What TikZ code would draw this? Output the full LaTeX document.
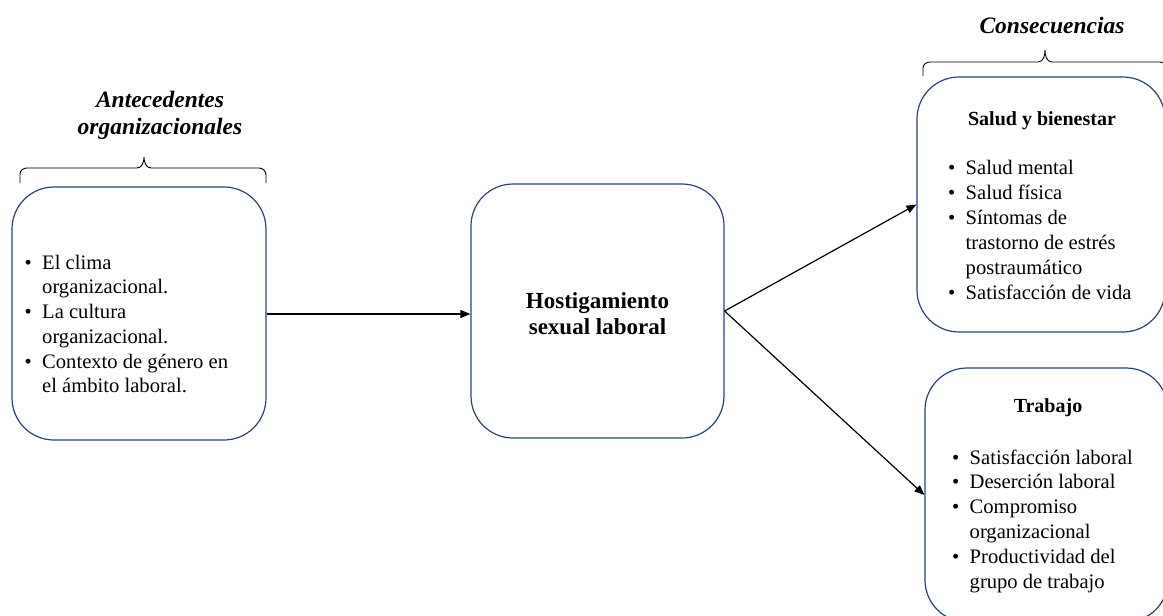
\documentclass[tikz,border=0pt]{standalone}
\usepackage{fontspec}
\setmainfont{Liberation Serif}
\usetikzlibrary{arrows.meta}
\definecolor{boxblue}{HTML}{2A4470}
% bullet item and its continuation line
\newcommand\itm[1]{\makebox[17.5pt][l]{\textbullet}#1}
\newcommand\cnt[1]{\hspace*{17.5pt}#1}
\begin{document}
\begin{tikzpicture}[x=1pt,y=-1pt,
  box/.style={draw=boxblue,line width=1.2pt,rounded corners=42pt,inner sep=0pt},
  listtxt/.style={anchor=north west,inner sep=0pt,align=left,font=\fontsize{20.6}{24.7}\selectfont},
  head/.style={anchor=base,inner sep=0pt,font=\fontsize{20}{24}\selectfont\bfseries},
  group/.style={inner sep=0pt,align=center,font=\fontsize{23.5}{27}\selectfont\bfseries\itshape},
  brace/.style={line width=0.9pt,black},
  flow/.style={line width=1.2pt,-{Triangle[length=10pt,width=8pt]}}]
\fill[white] (0,0) rectangle (1163,616);
\useasboundingbox (0,0) rectangle (1163,616);

% boxes
\node[box,minimum width=254pt,minimum height=253pt] (ante) at (139,313.5) {};
\node[box,minimum width=253pt,minimum height=254pt] (hsl) at (597.5,311) {};
\node[box,minimum width=248pt,minimum height=255pt] (sal) at (1041,204.5) {};
\node[box,minimum width=243pt,minimum height=254pt] (trab) at (1046.5,495) {};

% group titles and braces
\node[group,anchor=north] (tante) at (160,88.1) {\strut Antecedentes\\organizacionales};
\node[group,anchor=base] (tcons) at (1052,33) {Consecuencias};
\draw[brace] (20,183) -- (20,174) to[out=90,in=180] (27,168) -- (137,168)
  to[out=0,in=-90] (144,157) to[out=-90,in=180] (151,168) -- (259,168)
  to[out=0,in=90] (266,175) -- (266,183);
\draw[brace] (923,76) -- (923,68) to[out=90,in=180] (930,62) -- (1038,62)
  to[out=0,in=-90] (1045,50) to[out=-90,in=180] (1052,62) -- (1160,62)
  to[out=0,in=90] (1167,69) -- (1167,76);

% box contents
\node[listtxt] (lante) at (24.5,251.8) {\strut\itm{El clima}\\\cnt{organizacional.}\\\itm{La cultura}\\\cnt{organizacional.}\\\itm{Contexto de género en}\\\cnt{el ámbito laboral.}};
\node[group,font=\fontsize{23}{26}\selectfont\bfseries,anchor=north] (lhsl) at (597.5,289.8) {\strut Hostigamiento\\sexual laboral};
\node[head] (hsal) at (1042,125) {Salud y bienestar};
\node[listtxt,font=\fontsize{20.6}{25}\selectfont] (lsal) at (948,156.5) {\strut\itm{Salud mental}\\\itm{Salud física}\\\itm{Síntomas de}\\\cnt{trastorno de estrés}\\\cnt{postraumático}\\\itm{Satisfacción de vida}};
\node[head] (htrab) at (1048,412) {Trabajo};
\node[listtxt,font=\fontsize{20.6}{24.8}\selectfont] (ltrab) at (952,446.6) {\strut\itm{Satisfacción laboral}\\\itm{Deserción laboral}\\\itm{Compromiso}\\\cnt{organizacional}\\\itm{Productividad del}\\\cnt{grupo de trabajo}};

% connectors
\draw[flow] (ante.east |- 0,314) -- (hsl.west |- 0,314);
\draw[flow] (hsl.east) -- (sal.west);
\draw[flow] (hsl.east) -- (trab.west);
\end{tikzpicture}
\end{document}
